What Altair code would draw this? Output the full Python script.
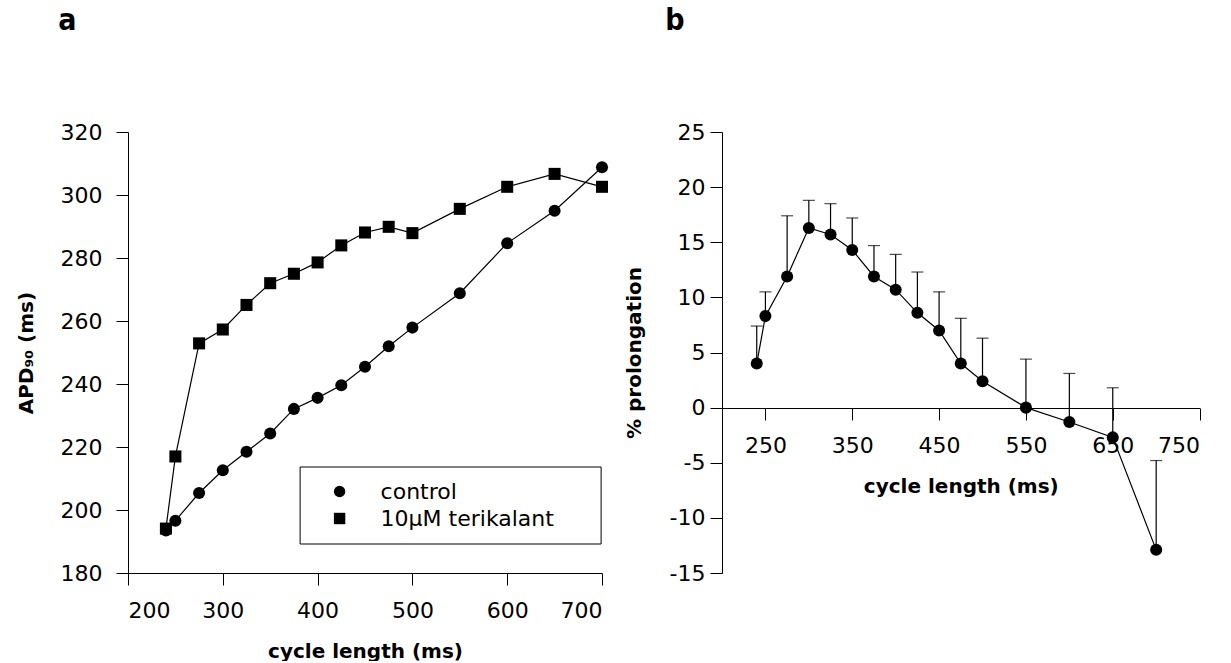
import altair as alt
import pandas as pd

# ---------------- data ----------------
cycle_a = [240, 250, 275, 300, 325, 350, 375, 400, 425, 450, 475, 500, 550, 600, 650, 700]
apd_control = [193.5, 196.6, 205.4, 212.6, 218.5, 224.3, 232.1, 235.6, 239.6, 245.5,
               252.0, 257.9, 268.8, 284.7, 295.0, 308.8]
apd_terikalant = [194.1, 217.0, 252.9, 257.3, 265.1, 272.0, 275.0, 278.6, 284.0, 288.1,
                  289.9, 287.9, 295.6, 302.6, 306.7, 302.6]
groups = ["control", "10\u03bcM terikalant"]

cycle_b = [240, 250, 275, 300, 325, 350, 375, 400, 425, 450, 475, 500, 550, 600, 650, 700]
prolongation = [4.0, 8.3, 11.9, 16.3, 15.7, 14.3, 11.9, 10.7, 8.6, 7.0, 4.0, 2.4, 0.0, -1.3, -2.7, -12.9]
prolongation_upper = [7.4, 10.5, 17.4, 18.8, 18.5, 17.2, 14.7, 13.9, 12.3, 10.5, 8.1, 6.3, 4.4, 3.1, 1.8, -4.8]

xticks_a = [200, 300, 400, 500, 600, 700]
yticks_a = [180, 200, 220, 240, 260, 280, 300, 320]
xticks_b = [250, 350, 450, 550, 650, 750]
yticks_b = [-15, -10, -5, 0, 5, 10, 15, 20, 25]

# ---------------- tables ----------------
df_a = pd.concat([
    pd.DataFrame({"cycle": cycle_a, "apd": apd_control, "group": groups[0]}),
    pd.DataFrame({"cycle": cycle_a, "apd": apd_terikalant, "group": groups[1]}),
], ignore_index=True)
df_b = pd.DataFrame({"cycle": cycle_b, "pct": prolongation, "upper": prolongation_upper})

FONT = "DejaVu Sans"
LETTER_FONT = "Liberation Sans Narrow, DejaVu Sans Condensed, Liberation Sans"

common_axis = dict(
    domainColor="black", domainWidth=1, tickColor="black", tickWidth=1, tickSize=12,
    labelColor="black", labelFont=FONT, labelFontSize=22,
    titleColor="black", titleFont=FONT, titleFontSize=20, titleFontWeight="bold",
    grid=False,
)

# ---------------- panel a ----------------
x_a = alt.X("cycle:Q", scale=alt.Scale(domain=[200, 700], nice=False, zero=False),
            axis=alt.Axis(values=xticks_a, title="cycle length (ms)", titlePadding=20,
                          labelPadding=15, **common_axis))
y_a = alt.Y("apd:Q", scale=alt.Scale(domain=[180, 320], nice=False, zero=False),
            axis=alt.Axis(values=yticks_a, title="APD\u2089\u2080 (ms)", titlePadding=24,
                          labelPadding=14, **common_axis))

shape_scale = alt.Scale(domain=groups, range=["circle", "square"])

lines_a = alt.Chart(df_a).mark_line(color="black", strokeWidth=1.2).encode(
    x=x_a, y=y_a, detail="group:N")
points_a = alt.Chart(df_a).mark_point(filled=True, color="black", size=145, opacity=1).encode(
    x=x_a, y=y_a,
    shape=alt.Shape("group:N", scale=shape_scale, legend=alt.Legend(
        orient="none", legendX=171.6, legendY=334.5, title=None,
        strokeColor="black", padding=14, cornerRadius=0,
        symbolSize=130, symbolFillColor="black", symbolStrokeColor="black", symbolStrokeWidth=0,
        symbolOffset=15, labelOffset=30, rowPadding=5, labelLimit=400,
        labelFont=FONT, labelFontSize=22, labelColor="black",
        labelExpr="datum.label + '\u2800\u2800'",
    )))

panel_a = alt.layer(lines_a, points_a).properties(
    width=474, height=441,
    title=alt.TitleParams("a", anchor="start", frame="group", dx=-69.7, offset=61.5,
                          baseline="alphabetic", font=LETTER_FONT, fontSize=30,
                          fontWeight="bold", color="black"),
)

# ---------------- panel b ----------------
x_b = alt.X("cycle:Q", scale=alt.Scale(domain=[200, 750], nice=False, zero=False),
            axis=alt.Axis(values=xticks_b, title="cycle length (ms)", titlePadding=20, offset=-165,
                          labelPadding=15, **common_axis))
y_axis_b = alt.Axis(values=yticks_b, title="% prolongation", titlePadding=25,
                    labelPadding=5,
                    labelExpr="datum.value < 0 ? '-' + format(abs(datum.value), 'd') : datum.label",
                    **common_axis)
y_scale_b = alt.Scale(domain=[-15, 25], nice=False, zero=False)

base_b = alt.Chart(df_b)
err_b = base_b.mark_rule(color="black", strokeWidth=1.2).encode(
    x=x_b, y=alt.Y("pct:Q", scale=y_scale_b, axis=y_axis_b), y2="upper:Q")
cap_b = base_b.mark_tick(color="black", orient="horizontal", size=12, thickness=1.2).encode(
    x=x_b, y=alt.Y("upper:Q", scale=y_scale_b, axis=y_axis_b))
line_b = base_b.mark_line(color="black", strokeWidth=1.2).encode(
    x=x_b, y=alt.Y("pct:Q", scale=y_scale_b, axis=y_axis_b))
pts_b = base_b.mark_circle(color="black", size=145, opacity=1).encode(
    x=x_b, y=alt.Y("pct:Q", scale=y_scale_b, axis=y_axis_b))

panel_b = alt.layer(err_b, cap_b, line_b, pts_b).properties(
    width=477.6, height=441,
    title=alt.TitleParams("b", anchor="start", frame="group", dx=-56.7, offset=61.5,
                          baseline="alphabetic", font=LETTER_FONT, fontSize=30,
                          fontWeight="bold", color="black"),
)

chart = alt.HConcatChart(hconcat=[panel_a, panel_b], spacing=120, bounds="flush").properties(
    padding={"left": 16, "top": 5, "right": 2, "bottom": 0},
    background="white",
).configure_view(stroke=None)

chart.save("out.html", embed_options={"renderer": "svg", "actions": False})
